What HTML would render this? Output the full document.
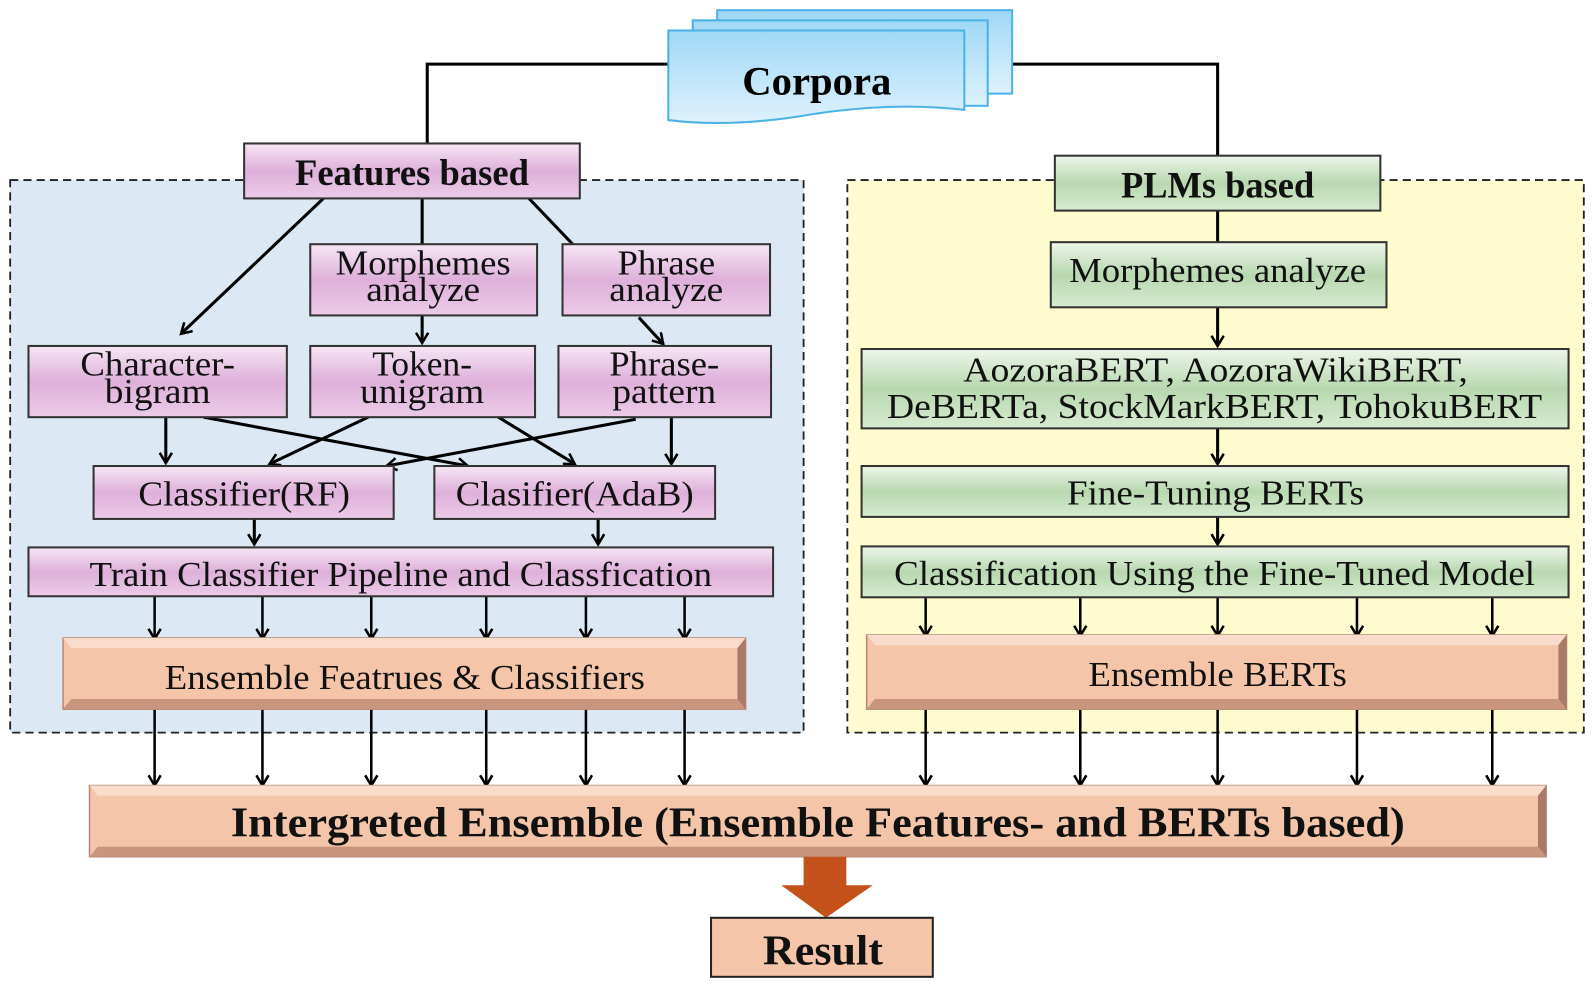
<!DOCTYPE html>
<html><head><meta charset="utf-8"><style>html,body{margin:0;padding:0;background:#fff}svg{display:block}</style></head><body>
<svg width="1595" height="988" viewBox="0 0 1568 971" preserveAspectRatio="none" xmlns="http://www.w3.org/2000/svg" font-family="Liberation Serif, serif">
<defs>
<linearGradient id="pk" x1="0" y1="0" x2="0" y2="1"><stop offset="0" stop-color="#f6e6f4"/><stop offset="0.5" stop-color="#deb0da"/><stop offset="1" stop-color="#eccbe8"/></linearGradient>
<linearGradient id="gr" x1="0" y1="0" x2="0" y2="1"><stop offset="0" stop-color="#eef6ea"/><stop offset="0.5" stop-color="#b8d8b0"/><stop offset="1" stop-color="#d6ebcf"/></linearGradient>
<linearGradient id="bl" x1="0" y1="0" x2="0" y2="1"><stop offset="0" stop-color="#9fd8f6"/><stop offset="1" stop-color="#dff2fd"/></linearGradient>
<marker id="ah" markerWidth="14" markerHeight="14" refX="11" refY="7" orient="auto" markerUnits="userSpaceOnUse"><polyline points="1,1 11,7 1,13" fill="none" stroke="#000" stroke-width="2.5"/></marker>
</defs>
<rect x="10" y="177" width="780" height="543" fill="#dce9f5" stroke="#222" stroke-width="1.8" stroke-dasharray="8,5"/>
<rect x="833" y="177" width="724" height="543" fill="#fefccf" stroke="#222" stroke-width="1.8" stroke-dasharray="8,5"/>
<g fill="none" stroke="#000" stroke-width="3">
<polyline points="660,63 420,63 420,142"/>
<polyline points="992,63 1197,63 1197,154"/>
</g>
<rect x="705" y="10" width="290" height="82" fill="url(#bl)" stroke="#4ab3e6" stroke-width="2"/>
<rect x="681" y="20" width="290" height="84" fill="url(#bl)" stroke="#4ab3e6" stroke-width="2"/>
<path d="M657,30 H948 V108 Q880,100 800,112 Q720,126 657,118 Z" fill="url(#bl)" stroke="#4ab3e6" stroke-width="2"/>
<text x="803" y="93" font-size="40" font-weight="bold" text-anchor="middle">Corpora</text>
<g stroke="#000" stroke-width="3" fill="none">
<line x1="318" y1="195" x2="178" y2="328" marker-end="url(#ah)"/>
<line x1="415" y1="195" x2="415" y2="240"/>
<line x1="520" y1="195" x2="563" y2="240"/>
<line x1="415" y1="310" x2="415" y2="337" marker-end="url(#ah)"/>
<line x1="628" y1="312" x2="652" y2="338" marker-end="url(#ah)"/>
<line x1="163" y1="410" x2="163" y2="455" marker-end="url(#ah)"/>
<line x1="200" y1="410" x2="460" y2="458" marker-end="url(#ah)"/>
<line x1="362" y1="410" x2="265" y2="456" marker-end="url(#ah)"/>
<line x1="490" y1="410" x2="565" y2="456" marker-end="url(#ah)"/>
<line x1="625" y1="412" x2="380" y2="458" marker-end="url(#ah)"/>
<line x1="660" y1="410" x2="660" y2="456" marker-end="url(#ah)"/>
<line x1="250" y1="510" x2="250" y2="535" marker-end="url(#ah)"/>
<line x1="588" y1="510" x2="588" y2="535" marker-end="url(#ah)"/>
<line x1="1197" y1="207" x2="1197" y2="238"/>
<line x1="1197" y1="302" x2="1197" y2="340" marker-end="url(#ah)"/>
<line x1="1197" y1="421" x2="1197" y2="456" marker-end="url(#ah)"/>
<line x1="1197" y1="508" x2="1197" y2="535" marker-end="url(#ah)"/>
</g>
<g stroke="#000" stroke-width="2.5" fill="none">
<line x1="152" y1="586" x2="152" y2="628" marker-end="url(#ah)"/><line x1="258" y1="586" x2="258" y2="628" marker-end="url(#ah)"/><line x1="365" y1="586" x2="365" y2="628" marker-end="url(#ah)"/><line x1="478" y1="586" x2="478" y2="628" marker-end="url(#ah)"/><line x1="576" y1="586" x2="576" y2="628" marker-end="url(#ah)"/><line x1="673" y1="586" x2="673" y2="628" marker-end="url(#ah)"/>
<line x1="152" y1="697" x2="152" y2="772" marker-end="url(#ah)"/><line x1="258" y1="697" x2="258" y2="772" marker-end="url(#ah)"/><line x1="365" y1="697" x2="365" y2="772" marker-end="url(#ah)"/><line x1="478" y1="697" x2="478" y2="772" marker-end="url(#ah)"/><line x1="576" y1="697" x2="576" y2="772" marker-end="url(#ah)"/><line x1="673" y1="697" x2="673" y2="772" marker-end="url(#ah)"/>
<line x1="910" y1="587" x2="910" y2="625" marker-end="url(#ah)"/><line x1="1062" y1="587" x2="1062" y2="625" marker-end="url(#ah)"/><line x1="1197" y1="587" x2="1197" y2="625" marker-end="url(#ah)"/><line x1="1334" y1="587" x2="1334" y2="625" marker-end="url(#ah)"/><line x1="1467" y1="587" x2="1467" y2="625" marker-end="url(#ah)"/>
<line x1="910" y1="697" x2="910" y2="772" marker-end="url(#ah)"/><line x1="1062" y1="697" x2="1062" y2="772" marker-end="url(#ah)"/><line x1="1197" y1="697" x2="1197" y2="772" marker-end="url(#ah)"/><line x1="1334" y1="697" x2="1334" y2="772" marker-end="url(#ah)"/><line x1="1467" y1="697" x2="1467" y2="772" marker-end="url(#ah)"/>
</g>
<g stroke="#333" stroke-width="2" fill="url(#pk)">
<rect x="240" y="141" width="330" height="54"/>
<rect x="305" y="240" width="223" height="70"/>
<rect x="553" y="240" width="204" height="70"/>
<rect x="28" y="340" width="254" height="70"/>
<rect x="305" y="340" width="221" height="70"/>
<rect x="549" y="340" width="209" height="70"/>
<rect x="92" y="458" width="295" height="52"/>
<rect x="427" y="458" width="276" height="52"/>
<rect x="28" y="538" width="732" height="48"/>
</g>
<g stroke="#333" stroke-width="2" fill="url(#gr)">
<rect x="1037" y="153" width="320" height="54"/>
<rect x="1033" y="238" width="330" height="64"/>
<rect x="847" y="343" width="695" height="78"/>
<rect x="847" y="458" width="695" height="50"/>
<rect x="847" y="537" width="695" height="50"/>
</g>
<g>
<rect x="62" y="627" width="671" height="70" fill="#f5c5a9" stroke="#b58a75" stroke-width="1.5"/>
<polygon points="62,627 733,627 725,637 70,637" fill="#f9dccb"/><polygon points="62,697 733,697 725,687 70,687" fill="#c9957c"/>
<polygon points="733,627 733,697 725,687 725,637" fill="#a97a66"/>
<rect x="852" y="624" width="688" height="73" fill="#f5c5a9" stroke="#b58a75" stroke-width="1.5"/>
<polygon points="852,624 1540,624 1532,634 860,634" fill="#f9dccb"/><polygon points="852,697 1540,697 1532,687 860,687" fill="#c9957c"/>
<polygon points="1540,624 1540,697 1532,687 1532,634" fill="#a97a66"/>
<rect x="88" y="772" width="1432" height="70" fill="#f5c5a9" stroke="#b58a75" stroke-width="1.5"/>
<polygon points="88,772 1520,772 1512,782 96,782" fill="#f9dccb"/><polygon points="88,842 1520,842 1512,832 96,832" fill="#c9957c"/>
<polygon points="1520,772 1520,842 1512,832 1512,782" fill="#a97a66"/>
<polygon points="790,842 832,842 832,870 858,870 812,902 768,870 790,870" fill="#c4501a"/>
<rect x="699" y="902" width="218" height="58" fill="#f5c5a9" stroke="#222" stroke-width="2"/>
</g>
<g text-anchor="middle" fill="#111">
<text x="405" y="182" font-size="36" font-weight="bold" textLength="230" lengthAdjust="spacingAndGlyphs">Features based</text>
<text x="1197" y="194" font-size="36" font-weight="bold" textLength="190" lengthAdjust="spacingAndGlyphs">PLMs based</text>
<text x="416" y="270" font-size="34" textLength="172" lengthAdjust="spacingAndGlyphs">Morphemes</text>
<text x="416" y="296" font-size="34" textLength="112" lengthAdjust="spacingAndGlyphs">analyze</text>
<text x="655" y="270" font-size="34" textLength="96" lengthAdjust="spacingAndGlyphs">Phrase</text>
<text x="655" y="296" font-size="34" textLength="112" lengthAdjust="spacingAndGlyphs">analyze</text>
<text x="155" y="369" font-size="34" textLength="152" lengthAdjust="spacingAndGlyphs">Character-</text>
<text x="155" y="396" font-size="34" textLength="104" lengthAdjust="spacingAndGlyphs">bigram</text>
<text x="415" y="369" font-size="34" textLength="98" lengthAdjust="spacingAndGlyphs">Token-</text>
<text x="415" y="396" font-size="34" textLength="122" lengthAdjust="spacingAndGlyphs">unigram</text>
<text x="653" y="369" font-size="34" textLength="108" lengthAdjust="spacingAndGlyphs">Phrase-</text>
<text x="653" y="396" font-size="34" textLength="102" lengthAdjust="spacingAndGlyphs">pattern</text>
<text x="240" y="497" font-size="34" textLength="208" lengthAdjust="spacingAndGlyphs">Classifier(RF)</text>
<text x="565" y="497" font-size="34" textLength="234" lengthAdjust="spacingAndGlyphs">Clasifier(AdaB)</text>
<text x="394" y="576" font-size="34" textLength="612" lengthAdjust="spacingAndGlyphs">Train Classifier Pipeline and Classfication</text>
<text x="398" y="677" font-size="34" textLength="472" lengthAdjust="spacingAndGlyphs">Ensemble Featrues &amp; Classifiers</text>
<text x="1197" y="277" font-size="34" textLength="292" lengthAdjust="spacingAndGlyphs">Morphemes analyze</text>
<text x="1195" y="375" font-size="34" textLength="496" lengthAdjust="spacingAndGlyphs">AozoraBERT,  AozoraWikiBERT,</text>
<text x="1194" y="411" font-size="34" textLength="644" lengthAdjust="spacingAndGlyphs">DeBERTa,  StockMarkBERT, TohokuBERT</text>
<text x="1195" y="496" font-size="34" textLength="292" lengthAdjust="spacingAndGlyphs">Fine-Tuning BERTs</text>
<text x="1194" y="575" font-size="34" textLength="630" lengthAdjust="spacingAndGlyphs">Classification Using the Fine-Tuned Model</text>
<text x="1197" y="674" font-size="34" textLength="254" lengthAdjust="spacingAndGlyphs">Ensemble BERTs</text>
<text x="804" y="822" font-size="42" font-weight="bold" textLength="1154" lengthAdjust="spacingAndGlyphs">Intergreted Ensemble (Ensemble Features- and BERTs based)</text>
<text x="809" y="948" font-size="42" font-weight="bold" textLength="118" lengthAdjust="spacingAndGlyphs">Result</text>
</g>
</svg>
</body></html>
